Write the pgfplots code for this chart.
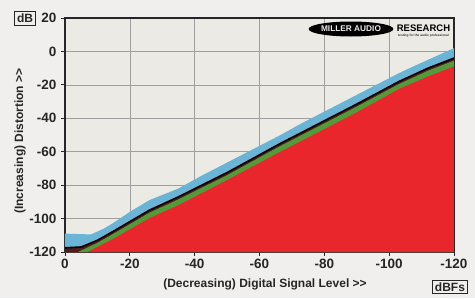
\documentclass[border=0pt]{standalone}
\usepackage{pgfplots}
\pgfplotsset{compat=1.18}
\usetikzlibrary{shapes.geometric}
\usepackage{fontspec}
\setmainfont{Liberation Sans}
\definecolor{pagebg}{RGB}{240,239,238}
\definecolor{plotbg}{RGB}{236,234,229}
\definecolor{blueband}{RGB}{106,180,213}
\definecolor{greenband}{RGB}{82,154,58}
\definecolor{redarea}{RGB}{232,38,44}
\definecolor{maroon}{RGB}{80,28,28}
\begin{document}
\begin{tikzpicture}
\fill[pagebg] (-65pt,-46pt) rectangle (410pt,252pt);
\begin{axis}[
  scale only axis, width=389pt, height=234pt,
  at={(0pt,0pt)}, anchor=south west,
  xmin=-120, xmax=0, x dir=reverse, ymin=-120, ymax=20,
  xtick={-120,-100,...,0}, ytick={-120,-100,...,20},
  grid=major, grid style={gray!75, line width=0.5pt},
  axis background/.style={fill=plotbg},
  axis line style={line width=1.2pt, black!85},
  tick align=outside, major tick length=4pt,
  tick style={black!85, line width=0.8pt},
  xtick pos=bottom, ytick pos=left,
  ticklabel style={font=\fontsize{13.5}{15}\selectfont\bfseries, text=black!85},
  /pgf/number format/assume math mode=true,
  xticklabel style={yshift=0pt},
  yticklabel style={xshift=-1pt},
  clip=true,
]
% blue band (top)
\addplot[draw=none, fill=blueband] coordinates {
 (0,-120) (0,-109) (-8,-109.5) (-12,-106) (-15,-102.5) (-20,-96) (-26,-89) (-35,-82) (-42,-74.5) (-50,-66.5)
 (-58,-58.5) (-66,-50.5) (-73,-43) (-80,-36) (-90,-26) (-97,-19) (-103,-13) (-108,-8.5) (-112,-5) (-116,-1.5) (-120,2) (-120,-120)};
% dark under black line
\addplot[draw=none, fill=maroon] coordinates {
 (0,-120) (0,-117.5) (-5,-117) (-10,-113) (-15,-107.5) (-26,-95) (-35,-87) (-50,-72.5) (-66,-55.5)
 (-80,-41.5) (-90,-31.5) (-103,-18) (-112,-10) (-120,-4) (-120,-120)};
% green band
\addplot[draw=none, fill=greenband] coordinates {
 (0,-120) (-4,-120) (-10,-114.5) (-15,-109) (-26,-96.5) (-35,-88.5) (-50,-74) (-66,-57)
 (-80,-43) (-90,-33) (-103,-19.5) (-112,-11.5) (-120,-5.5) (-120,-120)};
% red area
\addplot[draw=none, fill=redarea] coordinates {
 (0,-120) (-7,-120) (-15,-112) (-26,-99.8) (-35,-92) (-50,-77) (-66,-60.5) (-80,-46.5)
 (-90,-36.5) (-103,-22.5) (-112,-15) (-120,-9) (-120,-120)};
% black line
\addplot[black, line width=1.6pt] coordinates {
 (0,-117.5) (-5,-117) (-10,-113) (-15,-107.5) (-26,-95) (-35,-87) (-50,-72.5) (-66,-55.5)
 (-80,-41.5) (-90,-31.5) (-103,-18) (-112,-10) (-120,-4)};
\end{axis}
% axis labels
\node[rotate=90, font=\fontsize{12}{14}\selectfont\bfseries, text=black!85] at (-45pt,111pt) {(Increasing) Distortion >{}>};
\node[font=\fontsize{12}{14}\selectfont\bfseries, text=black!85] at (200pt,-32pt) {(Decreasing) Digital Signal Level >{}>};
% unit boxes
\node[draw=black!85, line width=0.9pt, inner sep=2.5pt, font=\fontsize{12}{14}\selectfont\bfseries, text=black!85] at (-40pt,233.5pt) {dB};
\node[draw=black!85, line width=0.9pt, inner sep=2.5pt, font=\fontsize{12}{14}\selectfont\bfseries, text=black!85] at (385pt,-35pt) {dBFs};
% logo
\node[ellipse, fill=black, minimum width=82pt, minimum height=15pt, inner sep=0pt, font=\fontsize{8.3}{9}\selectfont\bfseries, text=white!92!black] at (286pt,223pt) {MILLER AUDIO};
\node[font=\fontsize{9.5}{11}\selectfont\bfseries, text=black, inner sep=0pt] at (358.5pt,224pt) {RESEARCH};
\node[font=\fontsize{3.2}{4}\selectfont\bfseries, text=black!80, inner sep=0pt] at (358.5pt,216pt) {testing for the audio professional};
\end{tikzpicture}
\end{document}
